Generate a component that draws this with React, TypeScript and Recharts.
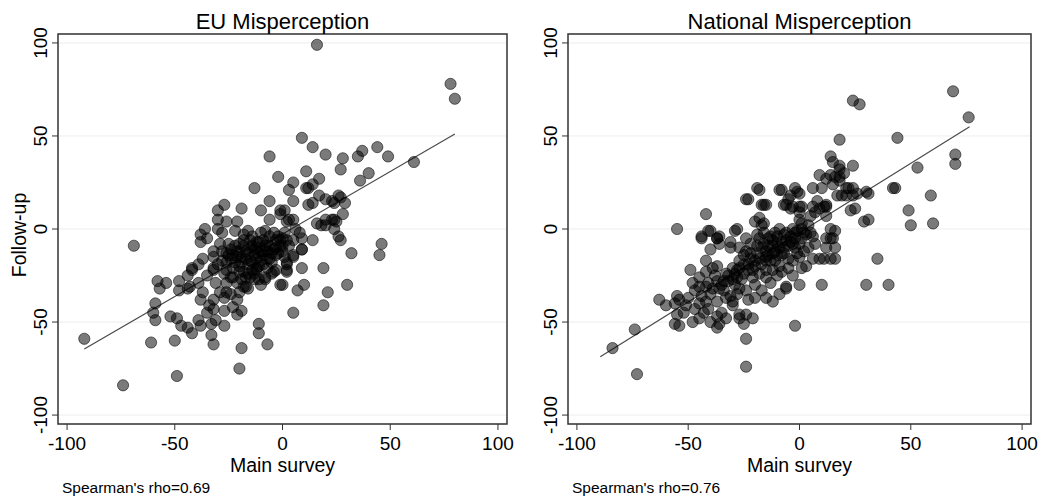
import React from 'react'
import { ScatterChart, Scatter, XAxis, YAxis, CartesianGrid, ReferenceLine, ReferenceArea } from 'recharts'

const FONT = '"Liberation Sans", Arial, sans-serif'

const axisTicks = [-100, -50, 0, 50, 100]
const titles = ['EU Misperception', 'National Misperception']
const xAxisTitle = 'Main survey'
const yAxisTitle = 'Follow-up'
const rhos = ['0.69', '0.76']

// EU panel: [main survey, follow-up]
const euPoints: [number, number][] = [
  [16, 99], [78, 78], [80, 70], [61, 36], [-69, -9], [-92, -59], [-74, -84], [-49, -79], [-61, -61], [-50, -60],
  [-32, -62], [-19, -64], [-20, -75], [-7, -62], [-11, -51], [-11, -56], [5, -45], [19, -41], [21, -34], [30, -30],
  [19, -21], [7, -33], [10, -30], [0, -30], [9, -21], [32, -13], [45, -14], [46, -8],
  [-59, -40], [-60, -45], [-59, -49], [-52, -47], [-49, -48], [-47, -52], [-44, -53], [-42, -56], [-39, -49], [-38, -52],
  [-33, -51], [-31, -49], [-27, -52], [-35, -45], [-27, -44], [-23, -42], [-19, -44], [-21, -46], [-33, -57], [-32, -43],
  [-34, -41], [-38, -38], [-37, -34], [-32, -38],
  [-58, -28], [-54, -29], [-57, -32], [-48, -28], [-48, -33], [-44, -32], [-42, -22], [-39, -19], [-44, -25], [-43, -31],
  [-39, -29], [-31, -29], [-32, -22], [-32, -15], [-26, -29], [-23, -26], [-26, -34], [-20, -34], [-17, -31], [-15, -26],
  [-18, -23], [-12, -22], [-12, -16], [-7, -21], [-8, -27], [-10, -30], [-5, -24], [-3, -22], [2, -19], [1, -15],
  [2, -23], [5, -15], [9, -11], [-27, -37], [-24, -35], [-21, -38], [-21, -29], [-18, -31], [-16, -32], [-24, -26],
  [-20, -23], [-14, -22], [-11, -27], [-8, -26], [-4, -23], [-1, -30],
  [9, 49], [14, 44], [20, 40], [28, 38], [35, 39], [37, 42], [44, 44], [49, 39], [40, 30], [36, 26],
  [27, 32], [11, 31], [17, 27], [-2, 28], [-6, 39], [-13, 22], [26, 18], [29, 14], [28, 8], [24, 14],
  [24, 5], [20, 16], [17, 18], [14, 14], [5, 25], [3, 21], [5, 15], [12, 22], [-6, 15], [-10, 10],
  [1, 10], [-27, 13], [-30, 10], [-19, 11], [-30, 5], [-26, 4], [-21, 4], [18, 2], [20, 5], [25, 4],
  [5, 5], [14, 24], [11, 22], [12, 13], [23, 15], [27, 17], [23, 5], [20, 2], [16, 3], [24, 0],
  [26, -4], [27, -6], [14, -6], [9, -5], [5, -6], [6, 0], [2, 4], [-1, 8], [3, 5], [-6, 5], [-1, 10],
  [-36, 0], [-38, -3], [-35, -5], [-30, 0], [-28, -2], [-22, -1], [-18, -3], [-38, -7], [-32, -12], [-29, -8],
  [-26, -13], [-24, -11], [-20, -8], [-17, -12], [-14, -9], [-11, -7], [-12, -21], [-9, -19], [-6, -16], [-3, -14],
  [-1, -9], [-28, -17], [-32, -21], [-37, -16], [-42, -21], [9, -11], [5, -14], [2, -18], [2, -22], [8, -2],
  [-25, -14], [-22, -18], [-19, -15], [-16, -19], [-15, -6], [-13, -14], [-10, -12], [-8, -9], [-6, -4], [-4, -11],
  [-2, -4], [0, -5], [1, -2], [-15, -17], [-23, -21], [-9, -14], [-12, -10], [-5, -18], [-18, -9], [-27, -24],
  [-20, -20], [-7, -12], [-3, -6], [-14, -4], [-10, -2], [-17, -26], [-13, -27], [0, -12], [3, -9], [-25, -8],
  [-21, -12], [-16, -1], [-8, -1], [-30, -19], [-35, -25], [-29, -34],
  [-28, -12], [-26, -18], [-24, -16], [-22, -9], [-21, -15], [-19, -18], [-18, -6], [-17, -16], [-16, -13], [-15, -10],
  [-14, -18], [-13, -11], [-12, -7], [-11, -13], [-10, -17], [-9, -6], [-8, -12], [-7, -7], [-6, -9], [-5, -13],
  [-4, -2], [-3, -10], [-2, -13], [-1, -6], [0, -9], [2, -6], [-20, -12], [-23, -14], [-26, -22], [-16, -24],
  [-11, -20], [-19, -27], [-13, -24], [-7, -16],
]

// National panel: [main survey, follow-up]
const natPoints: [number, number][] = [
  [-84, -64], [-74, -54], [-73, -78], [-24, -59], [-24, -74], [-2, -52], [35, -16], [30, -30], [40, -30], [10, -30],
  [0, -30], [14, -16], [9, -16], [69, 74], [76, 60], [70, 40], [70, 35], [24, 69], [27, 67], [44, 49],
  [53, 33], [42, 22], [59, 18], [49, 10], [50, 2], [60, 3], [29, 4], [18, 48],
  [14, 39], [15, 36], [18, 34], [18, 32], [9, 29], [12, 27], [14, 29], [24, 34], [22, 22], [26, 19],
  [30, 20], [17, 18], [21, 18], [23, 10], [6, 22], [10, 22], [11, 12], [12, 12], [9, 11], [-2, 22],
  [-9, 21], [-19, 22], [-24, 16], [-17, 13], [-5, 16], [-1, 20], [0, 12], [-7, 13], [-4, 11], [-20, 4],
  [-18, 6], [-17, 2], [-55, 0], [-42, 8], [-41, -1], [-44, -5], [-37, -5], [-29, -1], [14, 0], [14, -5],
  [16, 28], [18, 28], [20, 30], [18, 26], [15, 24], [21, 22], [24, 22], [24, 18], [19, 18], [31, 19],
  [25, 11], [31, 5], [8, 15], [12, 13], [12, 7], [7, 9], [6, 12], [0, 19], [-4, 18], [-8, 21],
  [1, 12], [-3, 12], [-6, 13], [0, 9], [5, 7], [-15, 13], [16, -1], [43, 22],
  [-23, 16], [-18, 21], [-16, 13], [-28, 0], [-40, -1], [-44, -4], [-36, -4], [-16, 3], [-19, -3],
  [-63, -38], [-60, -41], [-55, -36], [-56, -40], [-55, -46], [-56, -51], [-54, -52], [-54, -38],
  [-49, -22], [-45, -26], [-48, -29], [-45, -31], [-41, -29], [-37, -28], [-42, -23], [-39, -21], [-42, -17], [-37, -20],
  [-51, -41], [-47, -43], [-45, -40], [-43, -45], [-37, -47], [-35, -45], [-36, -51], [-40, -50], [-37, -53], [-33, -48],
  [-30, -41], [-27, -48], [-27, -46], [-24, -46], [-21, -48], [-25, -51],
  [-42, -39], [-37, -39], [-33, -37], [-30, -39], [-34, -33], [-39, -32], [-42, -31], [-32, -28], [-27, -32], [-28, -26],
  [-24, -33], [-20, -30], [-18, -24], [-15, -22], [-21, -22], [-25, -24], [-30, -21], [-27, -17], [-22, -16], [-19, -13],
  [-27, -10], [-22, -8], [-31, -10], [-36, -8], [-40, -11], [-37, -5], [-31, -7], [-24, -5], [-18, -5], [-15, -12],
  [-15, -17], [6, -16], [3, -20], [1, -21], [-3, -25], [-6, -31], [-6, -32], [-9, -35], [-12, -39], [-15, -37],
  [-1, -13], [4, -10], [7, -8], [12, -5], [1, -5], [-6, -6], [-9, -10], [-12, -13], [-9, -20], [-12, -22],
  [-15, -26], [-15, -15], [11, -16], [16, -16], [15, -5], [16, -10], [12, -10],
  [-3, 0], [0, 5], [1, 0], [4, 2], [5, -2], [6, -4], [-9, 0], [-11, -2], [-13, -4], [-16, -2],
  [-10, -8], [-7, -3], [-4, -7], [-2, -10], [-12, -6], [-8, -14], [-5, -16], [-11, -17], [-14, -9], [-17, -10],
  [-20, -17], [-23, -19], [-25, -14], [-28, -22], [-30, -27], [-33, -24], [-35, -30], [-38, -25], [-40, -35], [-44, -36],
  [-47, -33], [-50, -37], [-52, -45], [-48, -50], [-45, -48], [-41, -43], [-31, -36], [-28, -35], [-23, -38], [-20, -37],
  [-17, -33], [-13, -29], [-10, -25], [-8, -23], [-5, -21], [-3, -17], [0, -15], [2, -12], [-2, -2], [3, -3],
  [-7, -10], [-10, -14],
  [-32, -25], [-29, -24], [-27, -21], [-25, -19], [-23, -22], [-22, -13], [-20, -20], [-18, -16], [-17, -19], [-16, -8],
  [-14, -14], [-13, -17], [-12, -9], [-11, -12], [-10, -4], [-8, -7], [-7, -13], [-6, -2], [-5, -9], [-4, -4],
  [-3, -8], [-2, -5], [-1, -1], [0, -8], [1, 3], [2, -2], [-34, -28], [-36, -32], [-29, -30], [-26, -27],
  [-21, -26], [-19, -9], [-24, -12], [-14, -5],
]

// fitted lines, end points
const euFit: [number, number][] = [[-92, -64.5], [80, 51]]
const natFit: [number, number][] = [[-89.5, -68.6], [76.4, 55]]

const Dot = (p: any) => (
  <circle cx={p.cx} cy={p.cy} r={5.6} fill="#000" fillOpacity={0.52} stroke="#000" strokeOpacity={0.55} strokeWidth={1} />
)

const YTick = (p: any) => {
  const bx = p.x - 3
  return (
    <text x={bx} y={p.y} transform={`rotate(-90, ${bx}, ${p.y})`} textAnchor="middle" fontSize={19} fontFamily={FONT} fill="#000">
      {p.payload.value}
    </text>
  )
}

interface PanelProps {
  title: string
  points: [number, number][]
  fit: [number, number][]
  rho: string
  width: number
  yAxisWidth: number
  marginRight: number
  xDomain: [number, number]
  showYTitle: boolean
}

function Panel({ title, points, fit, rho, width, yAxisWidth, marginRight, xDomain, showYTitle }: PanelProps) {
  const height = 503
  const yDomain: [number, number] = [-104.8, 104.8]
  const data = points.map(([x, y]) => ({ x, y }))
  const plotLeft = yAxisWidth
  const plotRight = width - marginRight
  const xZero = plotLeft + ((0 - xDomain[0]) / (xDomain[1] - xDomain[0])) * (plotRight - plotLeft)

  return (
    <div style={{ position: 'relative', width, height }}>
      <ScatterChart width={width} height={height} margin={{ top: 34, right: marginRight, bottom: 0, left: 0 }}>
        <CartesianGrid vertical={false} stroke="#ededed" strokeWidth={1} />
        <XAxis
          dataKey="x"
          type="number"
          domain={xDomain}
          ticks={axisTicks}
          allowDataOverflow
          height={79}
          axisLine={false}
          tickLine={{ stroke: '#333' }}
          tickSize={6}
          tickMargin={7}
          tick={{ fontSize: 19, fontFamily: FONT, fill: '#000' }}
        />
        <YAxis
          dataKey="y"
          type="number"
          domain={yDomain}
          ticks={axisTicks}
          allowDataOverflow
          width={yAxisWidth}
          axisLine={false}
          tickLine={{ stroke: '#333' }}
          tickSize={6}
          tick={<YTick />}
        />
        <ReferenceLine
          segment={[{ x: fit[0][0], y: fit[0][1] }, { x: fit[1][0], y: fit[1][1] }]}
          stroke="#4a4a4a"
          strokeWidth={1.2}
        />
        <Scatter data={data} shape={Dot} isAnimationActive={false} />
        <ReferenceArea
          x1={xDomain[0]}
          x2={xDomain[1]}
          y1={yDomain[0]}
          y2={yDomain[1]}
          fill="none"
          stroke="#333"
          strokeWidth={1.5}
          ifOverflow="visible"
        />
      </ScatterChart>
      <svg width={width} height={height} style={{ position: 'absolute', left: 0, top: 0, pointerEvents: 'none' }}>
        <text x={(plotLeft + plotRight) / 2} y={29} textAnchor="middle" fontSize={22} fontFamily={FONT} fill="#000">
          {title}
        </text>
        <text x={xZero} y={472} textAnchor="middle" fontSize={19.5} fontFamily={FONT} fill="#000">
          {xAxisTitle}
        </text>
        <text x={plotLeft + 4} y={493} fontSize={15.5} fontFamily={FONT} fill="#000">
          {`Spearman's rho=${rho}`}
        </text>
        {showYTitle && (
          <text x={26} y={235} transform="rotate(-90, 26, 235)" textAnchor="middle" fontSize={19.5} fontFamily={FONT} fill="#000">
            {yAxisTitle}
          </text>
        )}
      </svg>
    </div>
  )
}

export default function App() {
  return (
    <div style={{ position: 'absolute', left: 0, top: 0, width: 1049, height: 503, background: '#fff', display: 'flex' }}>
      <Panel
        title={titles[0]}
        points={euPoints}
        fit={euFit}
        rho={rhos[0]}
        width={520}
        yAxisWidth={58}
        marginRight={13}
        xDomain={[-104.2, 104.2]}
        showYTitle
      />
      <Panel
        title={titles[1]}
        points={natPoints}
        fit={natFit}
        rho={rhos[1]}
        width={529}
        yAxisWidth={48}
        marginRight={18}
        xDomain={[-104, 104]}
        showYTitle={false}
      />
    </div>
  )
}
